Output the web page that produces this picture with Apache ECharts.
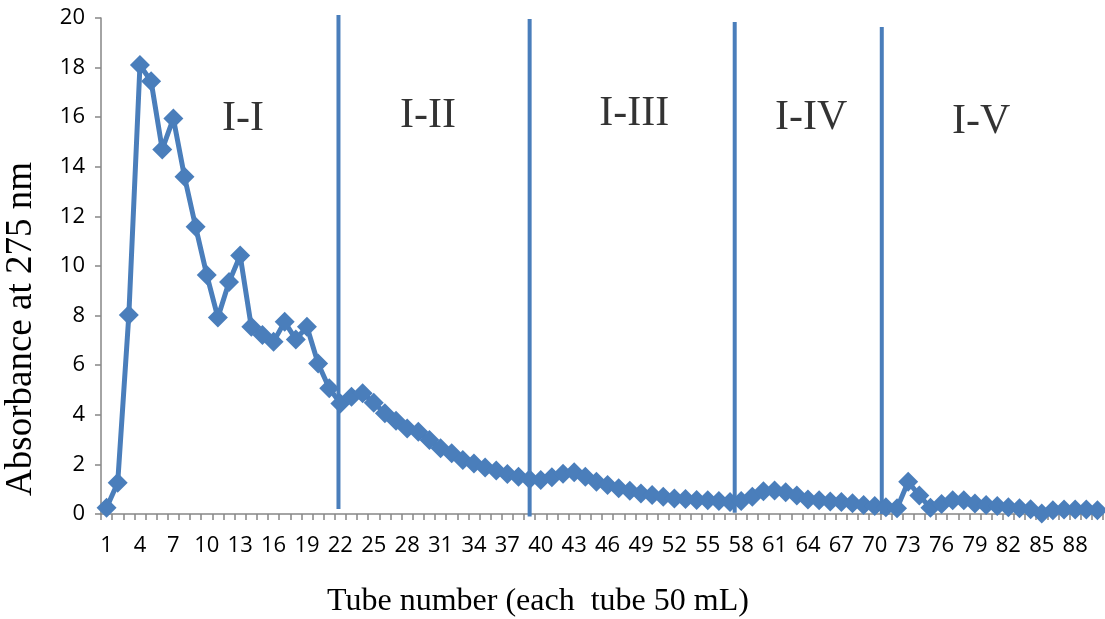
<!DOCTYPE html>
<html>
<head>
<meta charset="utf-8">
<script src="https://cdn.jsdelivr.net/npm/echarts@6/dist/echarts.min.js"></script>
<style>
html,body{margin:0;padding:0;background:#fff;}
#c{width:1105px;height:619px;}
</style>
</head>
<body>
<div id="c"></div>
<script>
// Tube numbers (categories)
const tubes = [];
for (let i = 1; i <= 90; i++) tubes.push(String(i));

// Absorbance at 275 nm for each tube
const absorbance = [
  0.25, 1.26, 8.02, 18.1, 17.45, 14.7, 15.95, 13.6, 11.58, 9.64,
  7.92, 9.35, 10.42, 7.55, 7.22, 6.95, 7.75, 7.04, 7.55, 6.07,
  5.07, 4.46, 4.73, 4.87, 4.49, 4.06, 3.76, 3.45, 3.32, 2.98,
  2.65, 2.45, 2.18, 2.04, 1.88, 1.75, 1.61, 1.50, 1.40, 1.37,
  1.48, 1.62, 1.68, 1.50, 1.30, 1.17, 1.04, 0.94, 0.83, 0.77,
  0.70, 0.63, 0.60, 0.56, 0.55, 0.52, 0.48, 0.52, 0.70, 0.92,
  0.95, 0.88, 0.75, 0.58, 0.55, 0.50, 0.48, 0.43, 0.36, 0.32,
  0.27, 0.23, 1.30, 0.75, 0.25, 0.40, 0.55, 0.55, 0.42, 0.36,
  0.32, 0.27, 0.23, 0.19, 0.02, 0.15, 0.18, 0.18, 0.18, 0.15
];

// Fraction divider lines: position on tube scale, top and bottom absorbance values
const dividerX = [21.83, 39.0, 57.42, 70.63];
const dividerTop = [20.12, 19.96, 19.84, 19.64];
const dividerBottom = [0.2, -0.1, 0.05, 0.0];

// Fraction labels and their anchor (tube scale, absorbance scale)
const fractionNames = ['I-I', 'I-II', 'I-III', 'I-IV', 'I-V'];
const fractionX = [13.26, 29.88, 48.39, 64.29, 79.56];
const fractionY = [15.92, 16.04, 16.12, 15.95, 15.8];

// Axis titles
const xTitle = 'Tube number (each  tube 50 mL)';
const yTitle = 'Absorbance at 275 nm';

// Y tick range
const yTicks = { min: 0, max: 20, interval: 2 };

const blue = '#4a7ebb';
const axisGray = '#868686';
const tickFont = '"Liberation Sans Narrow", "Open Sans", sans-serif';
const serifFont = '"Liberation Serif", "DejaVu Serif", serif';

const series = [{
  type: 'line',
  xAxisIndex: 0,
  data: absorbance,
  symbol: 'diamond',
  symbolSize: 20,
  showAllSymbol: true,
  lineStyle: { color: blue, width: 5 },
  itemStyle: { color: blue },
  animation: false,
  z: 3
}];

dividerX.forEach((x, i) => {
  series.push({
    type: 'line',
    xAxisIndex: 1,
    data: [[x, dividerTop[i]], [x, dividerBottom[i]]],
    symbol: 'none',
    clip: false,
    lineStyle: { color: blue, width: 4 },
    animation: false,
    z: 2
  });
});

series.push({
  type: 'scatter',
  xAxisIndex: 1,
  data: fractionNames.map((n, i) => ({ name: n, value: [fractionX[i], fractionY[i]] })),
  symbolSize: 0,
  label: {
    show: true,
    position: 'inside',
    formatter: p => p.name,
    fontFamily: serifFont,
    fontSize: 42,
    color: '#000'
  },
  animation: false,
  silent: true
});

const chart = echarts.init(document.getElementById('c'), null, { renderer: 'canvas' });
chart.setOption({
  backgroundColor: '#fff',
  animation: false,
  grid: { left: 101, right: 2, top: 18, bottom: 105, containLabel: false },
  graphic: [{
    type: 'text',
    x: 538, y: 602,
    style: {
      text: xTitle,
      font: '32px ' + serifFont,
      fill: '#000',
      textAlign: 'center',
      textVerticalAlign: 'middle'
    }
  }, {
    type: 'text',
    x: 21, y: 329,
    rotation: Math.PI / 2,
    style: {
      text: yTitle,
      font: '37px ' + serifFont,
      fill: '#000',
      textAlign: 'center',
      textVerticalAlign: 'middle'
    }
  }],
  xAxis: [{
    type: 'category',
    data: tubes,
    boundaryGap: true,
    axisLine: { lineStyle: { color: axisGray, width: 1.5 } },
    axisTick: { show: true, interval: 0, length: 6, lineStyle: { color: axisGray, width: 1.5 } },
    axisLabel: {
      interval: 2,
      margin: 21,
      fontFamily: tickFont,
      fontSize: 22,
      color: '#000'
    },
    splitLine: { show: false }
  }, {
    type: 'value',
    min: 0.5,
    max: 90.5,
    show: false
  }],
  yAxis: {
    type: 'value',
    min: yTicks.min,
    max: yTicks.max,
    interval: yTicks.interval,
    axisLine: { show: true, lineStyle: { color: axisGray, width: 1.5 } },
    axisTick: { show: true, length: 6, lineStyle: { color: axisGray, width: 1.5 } },
    axisLabel: {
      margin: 16,
      fontFamily: tickFont,
      fontSize: 22,
      color: '#000'
    },
    splitLine: { show: false }
  },
  series: series
});
</script>
</body>
</html>
